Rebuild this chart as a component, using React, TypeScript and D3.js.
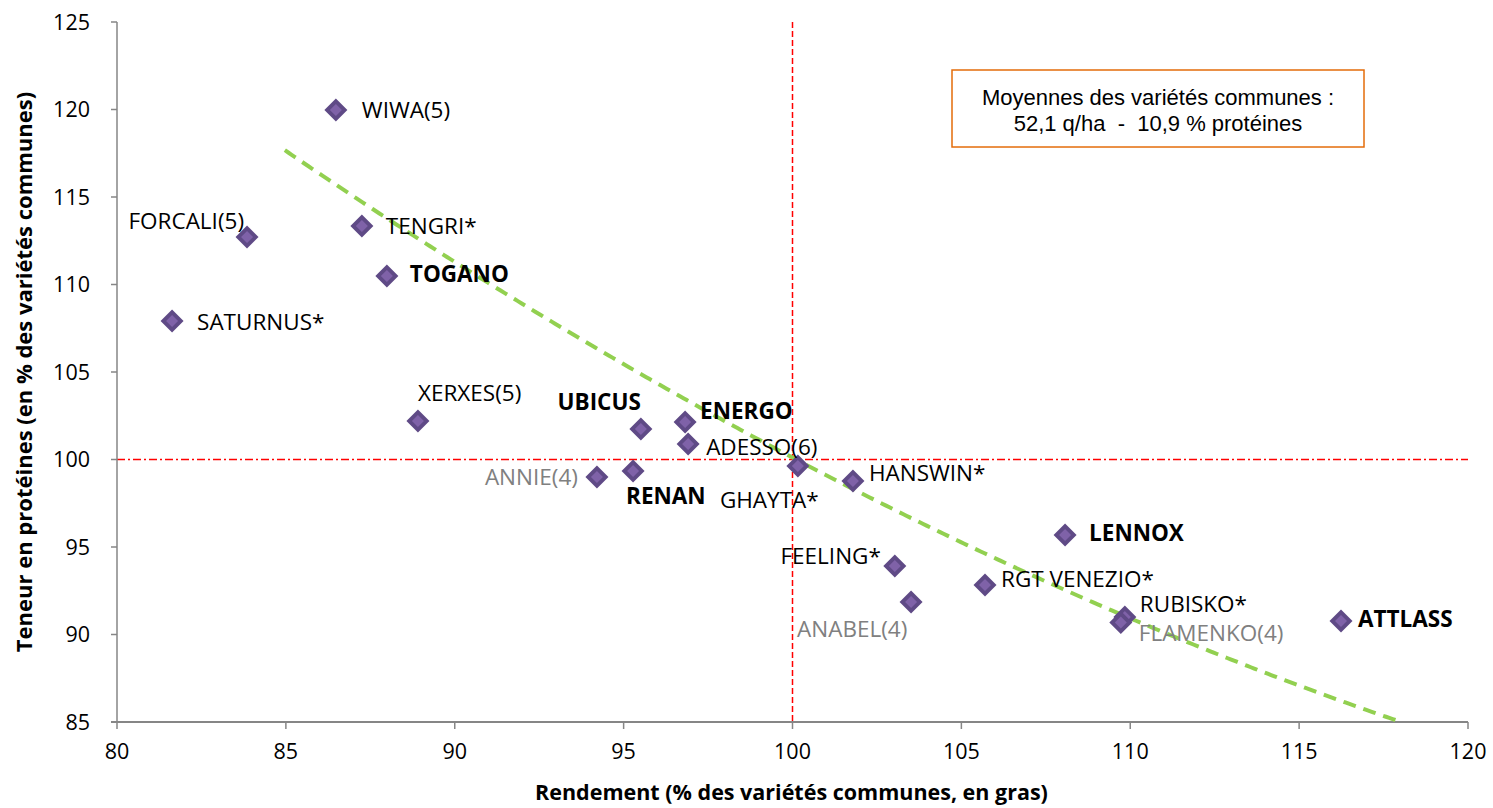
import React from "react";
import * as d3 from "d3";

const varieties = ["WIWA(5)", "FORCALI(5)", "TENGRI*", "TOGANO", "SATURNUS*", "XERXES(5)", "UBICUS", "ENERGO", "ADESSO(6)", "ANNIE(4)", "RENAN", "GHAYTA*", "HANSWIN*", "LENNOX", "FEELING*", "ANABEL(4)", "RGT VENEZIO*", "RUBISKO*", "FLAMENKO(4)", "ATTLASS"];
const rendement = [86.48, 83.85, 87.25, 87.99, 81.63, 88.91, 95.51, 96.82, 96.91, 94.21, 95.28, 100.16, 101.79, 108.07, 103.03, 103.51, 105.7, 109.84, 109.72, 116.24];
const proteines = [119.97, 112.71, 113.34, 110.49, 107.91, 102.2, 101.74, 102.14, 100.89, 99.0, 99.34, 99.63, 98.77, 95.69, 93.91, 91.86, 92.83, 91.0, 90.69, 90.77];
// label style: 0 normal, 1 bold, 2 grey
const labelKind = [0, 0, 0, 1, 0, 0, 1, 1, 0, 2, 1, 0, 0, 1, 0, 2, 0, 0, 2, 1];
const xTicks = [80, 85, 90, 95, 100, 105, 110, 115, 120];
const yTicks = [85, 90, 95, 100, 105, 110, 115, 120, 125];

// trend line (polynomial trend)
const trendX = [84.97, 87.88, 92.82, 95.69, 99.99, 109.1, 113.04, 117.9];
const trendY = [117.69, 114.09, 107.69, 104.54, 100.26, 91.8, 88.54, 85.0];

// label placement (layout): [dx, dy, anchor]
const labelPos: [number, number, string][] = [
  [26, 0, "start"], [-3, -16, "end"], [24, 0, "start"], [23, -2, "start"], [25, 1, "start"],
  [0, -28, "start"], [0, -27, "end"], [15, -11, "start"], [18, 3, "start"], [-19, 0, "end"],
  [-7, 25, "start"], [-78, 34, "start"], [16, -8, "start"], [24, -2, "start"], [-14, -10, "end"],
  [-114, 27, "start"], [16, -6, "start"], [15, -13, "start"], [18, 10, "start"], [17, -2, "start"],
];

const W = 1493, H = 808;
const left = 117, right = 1468, top = 22, bottom = 722;
const FONT = "'Open Sans', Lato, sans-serif";

function quadFit(xs: number[], ys: number[]) {
  const n = xs.length;
  const s = [0, 0, 0, 0, 0], t = [0, 0, 0];
  for (let i = 0; i < n; i++) {
    const x = xs[i] - 100, y = ys[i];
    let p = 1;
    for (let k = 0; k < 5; k++) { s[k] += p; if (k < 3) t[k] += p * y; p *= x; }
  }
  const M = [[s[0], s[1], s[2], t[0]], [s[1], s[2], s[3], t[1]], [s[2], s[3], s[4], t[2]]];
  for (let i = 0; i < 3; i++) {
    for (let j = i + 1; j < 3; j++) {
      const f = M[j][i] / M[i][i];
      for (let k = i; k < 4; k++) M[j][k] -= f * M[i][k];
    }
  }
  const r = [0, 0, 0];
  for (let i = 2; i >= 0; i--) {
    let v = M[i][3];
    for (let k = i + 1; k < 3; k++) v -= M[i][k] * r[k];
    r[i] = v / M[i][i];
  }
  return (x: number) => r[0] + r[1] * (x - 100) + r[2] * (x - 100) * (x - 100);
}

export default function App() {
  const x = d3.scaleLinear().domain([80, 120]).range([left, right]);
  const y = d3.scaleLinear().domain([85, 125]).range([bottom, top]);
  const f = quadFit(trendX, trendY);
  const trendPts: [number, number][] = [];
  const x0 = trendX[0], x1 = trendX[trendX.length - 1];
  for (let v = x0; v <= x1 + 1e-9; v += 0.1) {
    const yy = f(v);
    if (yy < 85) break;
    trendPts.push([v, yy]);
  }
  const line = d3.line<[number, number]>().x((d) => x(d[0])).y((d) => y(d[1]));
  const diamond = (cx: number, cy: number, r: number) => `M${cx},${cy - r}L${cx + r},${cy}L${cx},${cy + r}L${cx - r},${cy}Z`;

  return (
    <svg width={W} height={H} style={{ position: "absolute", left: 0, top: 0, background: "#fff" }}>
      <rect width={W} height={H} fill="#fff" />
      <line x1={left} x2={right} y1={y(100)} y2={y(100)} stroke="#FF0000" strokeWidth={1.5} strokeDasharray="8,3,2,3" />
      <line x1={x(100)} x2={x(100)} y1={top} y2={bottom} stroke="#FF0000" strokeWidth={1.5} strokeDasharray="6,3" />
      <line x1={left} x2={left} y1={top} y2={bottom} stroke="#868686" strokeWidth={1.5} />
      {yTicks.map((t) => (
        <g key={"y" + t}>
          <line x1={left - 6} x2={left} y1={y(t)} y2={y(t)} stroke="#868686" strokeWidth={1.5} />
          <text x={left - 27} y={y(t)} dy="0.36em" textAnchor="end" fontFamily={FONT} fontSize={21.5} fill="#000">{t}</text>
        </g>
      ))}
      <line x1={left - 6} x2={right} y1={bottom} y2={bottom} stroke="#868686" strokeWidth={2} />
      {xTicks.map((t) => (
        <g key={"x" + t}>
          <line x1={x(t)} x2={x(t)} y1={bottom} y2={bottom + 7} stroke="#868686" strokeWidth={1.5} />
          <text x={x(t)} y={bottom + 29} dy="0.36em" textAnchor="middle" fontFamily={FONT} fontSize={21.5} fill="#000">{t}</text>
        </g>
      ))}
      <path d={line(trendPts) || ""} fill="none" stroke="#92D050" strokeWidth={4} strokeDasharray="13,8" />
      {rendement.map((r, i) => (
        <g key={"p" + i}>
          <path d={diamond(x(r), y(proteines[i]), 11.5)} fill="#5F4A86" />
          <path d={diamond(x(r), y(proteines[i]), 6)} fill="#7F62A8" />
        </g>
      ))}
      {varieties.map((n, i) => {
        const [dx, dy, anchor] = labelPos[i];
        return (
          <text key={"l" + i} x={x(rendement[i]) + dx} y={y(proteines[i]) + dy} dy="0.36em" textAnchor={anchor as any}
            fontFamily={FONT} fontSize={22.5} fontWeight={labelKind[i] === 1 ? "bold" : "normal"}
            fill={labelKind[i] === 2 ? "#808080" : "#000"}>{n}</text>
        );
      })}
      <rect x={952} y={70} width={412} height={77} fill="#fff" stroke="#E46C0A" strokeWidth={1.5} />
      <text x={1158} y={97} dy="0.36em" textAnchor="middle" fontFamily="'Liberation Sans', Arial, sans-serif" fontSize={22} fill="#000">Moyennes des variétés communes :</text>
      <text x={1158} y={123} dy="0.36em" textAnchor="middle" fontFamily="'Liberation Sans', Arial, sans-serif" fontSize={22} fill="#000" style={{ whiteSpace: "pre" }}>52,1 q/ha  -  10,9 % protéines</text>
      <text x={(left + right) / 2 - 1} y={792} dy="0.36em" textAnchor="middle" fontFamily={FONT} fontSize={21.5} fontWeight="bold">Rendement (% des variétés communes, en gras)</text>
      <text transform={`translate(24,${(top + bottom) / 2}) rotate(-90)`} dy="0.36em" textAnchor="middle" fontFamily={FONT} fontSize={22} fontWeight="bold">Teneur en protéines (en % des variétés communes)</text>
    </svg>
  );
}
